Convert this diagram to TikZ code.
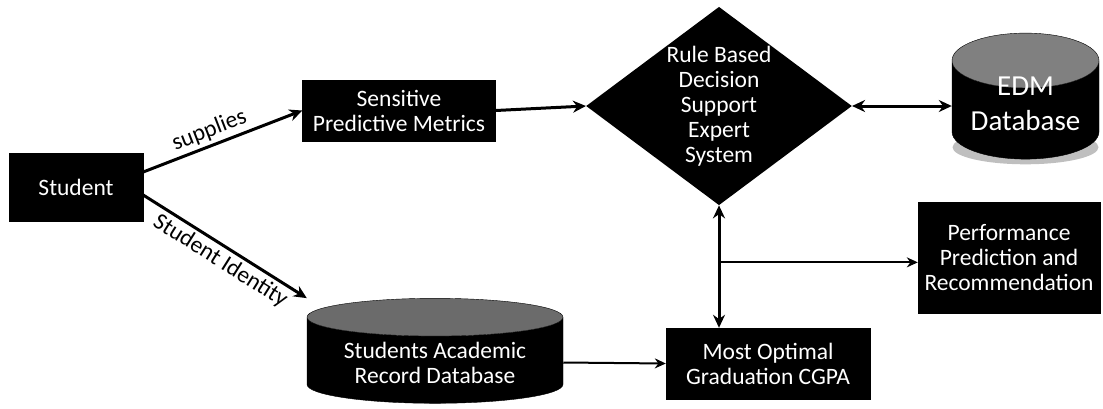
\documentclass[tikz,border=0pt]{standalone}
\usepackage{fontspec}
\setmainfont{Carlito}
\usetikzlibrary{positioning, shapes.geometric, arrows.meta, backgrounds}
\tikzstyle{block} = [rectangle, fill=black, draw=black, text=white, text centered, align=center]
\tikzstyle{decision} = [diamond, fill=black, text=white, text centered, align=center, aspect=1.34, inner sep=0pt, minimum width=262pt, minimum height=195pt]
\tikzstyle{dbase} = [cylinder, shape border rotate=90, draw=black, cylinder uses custom fill, cylinder body fill=black, cylinder end fill=black!58, text=white, align=center]
\tikzstyle{arrow} = [line width=3pt,->,>={Stealth[length=13pt,width=12pt]}]
\tikzstyle{thinarrow} = [line width=2pt,->,>={Stealth[length=11pt,width=10pt]}]
\tikzstyle{every node}=[font=\fontsize{23.5}{25}\selectfont]

\begin{document}
\begin{tikzpicture}[node distance=300pt]
		\useasboundingbox (0,0) rectangle (1103pt,-408pt);
		\node (student) [block, minimum width=134pt, minimum height=68pt] at (76pt,-187pt) {Student};
		\node (metrics) [block, right of=student, xshift=23pt, yshift=76.5pt, minimum width=193pt, minimum height=61pt] {Sensitive\\Predictive Metrics};
		\node (record) [dbase, right of=student, xshift=59pt, yshift=-175.5pt, minimum width=256pt, minimum height=105pt, aspect=0.2] {Students Academic\\Record Database};
		\node (rules) [decision, right of=metrics, xshift=20pt, yshift=4.5pt] {Rule Based\\Decision\\Support\\Expert\\System};
		\node (edm) [dbase, right of=rules, xshift=6.5pt, yshift=-8pt, minimum width=147pt, minimum height=126pt, aspect=0.42, cylinder end fill=black!50,
			label={[text=white, align=center, yshift=10pt, font=\fontsize{29}{35}\selectfont]center:EDM\\Database}] {\hspace*{124pt}};
		\node (optimal) [block, below of=rules, xshift=49pt, yshift=42.5pt, minimum width=204pt, minimum height=71pt] {Most Optimal\\Graduation CGPA};
		\node (perf) [block, right of=optimal, xshift=-59pt, yshift=106pt, minimum width=182pt, minimum height=111pt] {Performance\\Prediction and\\Recommendation};
		\coordinate (split) at ([yshift=-57pt]rules.south);
		% soft shadow under the EDM cylinder
		\begin{scope}[on background layer]
			\fill[black!25] ([yshift=12pt]edm.south) ellipse [x radius=73pt, y radius=17pt];
		\end{scope}
		\draw [arrow] ([yshift=15pt]student.east) -- node[sloped, above, pos=0.45] {supplies} (metrics.west);
		\draw [arrow] ([yshift=-8pt]student.east) -- node[sloped, below, pos=0.52] {Student Identity} (record.west |- record.north);
		\draw [arrow] (metrics.east) -- (rules.west);
		\draw [arrow, <->] (rules.east) -- (rules.east -| edm.west);
		\draw [arrow, <->] (rules.south) -- (rules.south |- optimal.north);
		\draw [thinarrow] (split) -- (split -| perf.west);
		\draw [thinarrow] (record.east) -- (optimal.west);
	\end{tikzpicture}
\end{document}
